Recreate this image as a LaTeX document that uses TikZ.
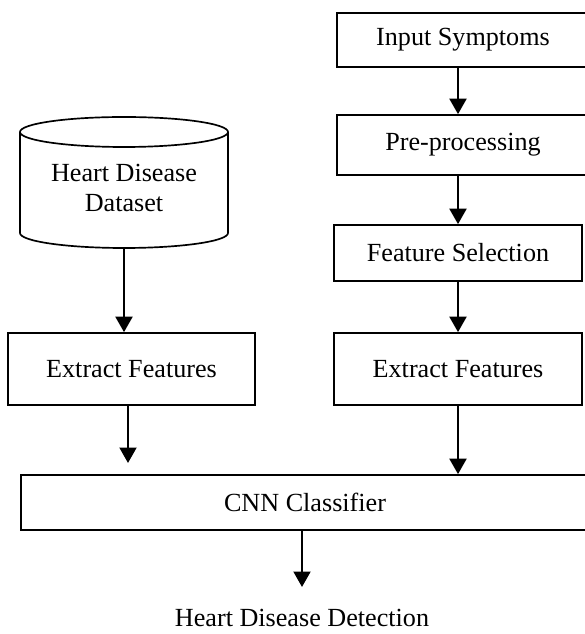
\documentclass[tikz,border=0pt]{standalone}
\usepackage{fontspec}
\setmainfont{Liberation Serif}
\usetikzlibrary{arrows.meta}

\begin{document}
\begin{tikzpicture}[
		box/.style={draw, line width=1.2pt, rectangle, inner sep=0pt, font=\fontsize{18.6}{21.3}\selectfont},
		label/.style={inner sep=0pt, align=center, font=\fontsize{18.6}{21.3}\selectfont},
		arrline/.style={line width=1.7pt, -{Triangle[width=12pt, length=11pt]}}
	]
	%%%%% START %%%%%
	
	\useasboundingbox (0, 0) rectangle (14.6, 15.85);
	
	\node[box, minimum width=6.3cm, minimum height=1.35cm] (input) at (11.575, 14.85) {Input Symptoms};
	\node[box, minimum width=6.3cm, minimum height=1.5cm] (prep) at (11.575, 12.225) {Pre-processing};
	\node[box, minimum width=6.2cm, minimum height=1.4cm] (fsel) at (11.45, 9.525) {Feature Selection};
	\node[box, minimum width=6.2cm, minimum height=1.8cm] (rext) at (11.45, 6.625) {Extract Features};
	
	\draw[line width=1.2pt] (3.1, 12.55) ellipse (2.6 and 0.375);
	\draw[line width=1.2pt] (0.5, 12.55) -- (0.5, 10.025) arc (180:360:2.6 and 0.375) -- (5.7, 12.55);
	\node[label] (data) at (3.1, 11.15) {Heart Disease\\Dataset};
	\coordinate (database) at (3.1, 9.65);
	
	\node[box, minimum width=6.175cm, minimum height=1.8cm] (lext) at (3.2875, 6.625) {Extract Features};
	
	\node[box, minimum width=14.2cm, minimum height=1.375cm] (cnn) at (7.625, 3.2875) {CNN Classifier};
	\coordinate (lefttip) at (3.2, 4.275);
	
	\node[label, anchor=base] (detect) at (7.55, 0.2) {Heart Disease Detection};
	\coordinate (dettip) at (7.55, 1.175);
	
	\draw[arrline] (input.south -| fsel.north) -- (prep.north -| fsel.north);
	\draw[arrline] (prep.south -| fsel.north) -- (fsel.north);
	\draw[arrline] (fsel.south) -- (rext.north);
	
	\draw[arrline] (database) -- (database |- lext.north);
	\draw[arrline] (lext.south -| lefttip) -- (lefttip);
	\draw[arrline] (rext.south) -- (rext.south |- cnn.north);
	
	\draw[arrline] (cnn.south -| dettip) -- (dettip);
	
	%%%%% END %%%%%
\end{tikzpicture}
\end{document}
